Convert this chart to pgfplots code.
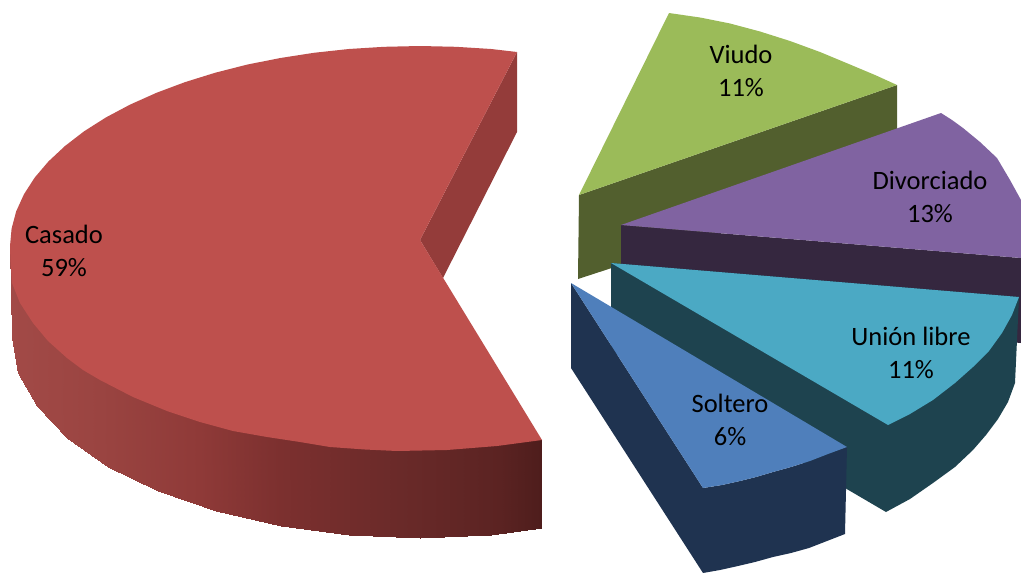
\documentclass[border=0pt]{standalone}
\usepackage{pgfplots}
\pgfplotsset{compat=1.18}
\usepackage{fontspec}
\setmainfont{Carlito}
\definecolor{casadoTop}{HTML}{BE504D}
\definecolor{casadoIn}{HTML}{943C3A}
\definecolor{viudoTop}{HTML}{9BBB59}
\definecolor{viudoWall}{HTML}{525F2E}
\definecolor{divoTop}{HTML}{8063A1}
\definecolor{divoWall}{HTML}{35273F}
\definecolor{unionTop}{HTML}{4BA9C4}
\definecolor{unionWall}{HTML}{1E434F}
\definecolor{solTop}{HTML}{4F7FBB}
\definecolor{solWall}{HTML}{1F3350}
\begin{document}
\begin{tikzpicture}
\path[use as bounding box] (0,0) rectangle (1021pt,573pt);
\begin{axis}[
  scale only axis, width=1021pt, height=573pt,
  xmin=0, xmax=1021, ymin=0, ymax=573, y dir=reverse,
  hide axis, clip=true,
  colormap={wall}{rgb255(0)=(162,74,71) rgb255(170)=(154,68,65) rgb255(357)=(143,58,56) rgb255(507)=(124,48,47) rgb255(733)=(106,42,41) rgb255(920)=(91,35,34) rgb255(1000)=(78,29,28)},
  point meta min=10, point meta max=542,
]
% Casado: outer wall, shaded left to right
\addplot[patch, patch type=rectangle, shader=interp, point meta=x] coordinates {
 (10,246) (16.2,280.7) (18.2,372.7) (12,338)
 (16.2,280.7) (34.7,314.4) (36.6,406.4) (18.2,372.7)
 (34.7,314.4) (65,346) (66.7,438) (36.6,406.4)
 (65,346) (106,374.6) (107.5,466.6) (66.7,438)
 (106,374.6) (156.5,399.2) (157.7,491.2) (107.5,466.6)
 (156.5,399.2) (215,419.2) (216,511.2) (157.7,491.2)
 (215,419.2) (279.8,433.9) (280.5,525.9) (216,511.2)
 (279.8,433.9) (348.8,443) (349.2,535) (280.5,525.9)
 (348.8,443) (420,446) (420,538) (349.2,535)
 (420,446) (491.2,443) (490.8,535) (420,538)
 (491.2,443) (542,439) (542,528) (490.8,535)
};
% Casado: inner cut face
\addplot[fill=casadoIn, draw=none] coordinates {(517,52) (517,132) (443,278) (420,240)} -- cycle;
% Casado: top face
\addplot[fill=casadoTop, draw=none] coordinates {
 (420,240) (517,52) (491.2,49) (455.8,46.8) (420,46) (384.2,46.8) (348.8,49) (313.9,52.8)
 (279.8,58.1) (246.7,64.7) (215,72.8) (184.8,82.2) (156.5,92.8) (130.1,104.6) (106,117.4)
 (84.1,131.3) (65,146) (48.4,161.5) (34.7,177.6) (24,194.2) (16.2,211.3) (11.6,228.6)
 (10,246) (10.5,262) (12,283) (20,303) (33,323) (48,341) (67,358) (83,370) (100,380)
 (133,397) (167,411) (200,422) (233,431) (267,437) (300,442) (330,447) (365,449.5)
 (397,451) (447,450) (497,446) (542,440)
} -- cycle;
% Viudo
\addplot[fill=viudoWall, draw=none] coordinates {(579,195) (897,85) (897,175) (578,279)} -- cycle;
\addplot[fill=viudoTop, draw=none] coordinates {
 (579,195) (669,13) (700,17.5) (730,23.5) (760,31.5) (790,41) (820,52) (850,64.5) (875,75) (897,85)
} -- cycle;
% Divorciado
\addplot[fill=divoWall, draw=none] coordinates {(621,225) (1021,258) (1021,343) (621,310)} -- cycle;
\addplot[fill=divoTop, draw=none] coordinates {
 (621,225) (941,113) (952,120) (963,128) (980,142) (997,158) (1010,180) (1021,200) (1021,258)
} -- cycle;
% Union libre
\addplot[fill=unionWall, draw=none] coordinates {
 (611,263) (1019,297) (1015,383) (1008,402) (998,419) (986,435) (973,450) (955,467) (933,483) (910,499) (886,512) (611,351)
} -- cycle;
\addplot[fill=unionTop, draw=none] coordinates {
 (611,263) (1019,297) (1012,315) (1002,333) (989,351) (973,367) (955,383) (933,400) (910,414) (888,425)
} -- cycle;
% Soltero
\addplot[fill=solWall, draw=none] coordinates {
 (571,283) (703,488) (722,485) (740,481) (756,477) (773,472) (791,467) (810,461) (828,454) (847,447)
 (845,534) (827,541) (809,548) (791,553) (773,557) (755,562) (738,566) (720,570) (703,573) (571,368)
} -- cycle;
\addplot[fill=solTop, draw=none] coordinates {
 (571,283) (847,447) (828,454) (810,461) (791,467) (773,472) (756,477) (740,481) (722,485) (703,488)
} -- cycle;
% Category labels
\begin{scope}[every node/.style={align=center, font=\fontsize{26.5}{33}\selectfont, text=black}]
\node at (axis cs:741,71) {Viudo\\11\%};
\node at (axis cs:930,197) {Divorciado\\13\%};
\node at (axis cs:911,353) {Unión libre\\11\%};
\node at (axis cs:730,420) {Soltero\\6\%};
\node at (axis cs:64,251) {Casado\\59\%};
\end{scope}
\end{axis}
\end{tikzpicture}
\end{document}
